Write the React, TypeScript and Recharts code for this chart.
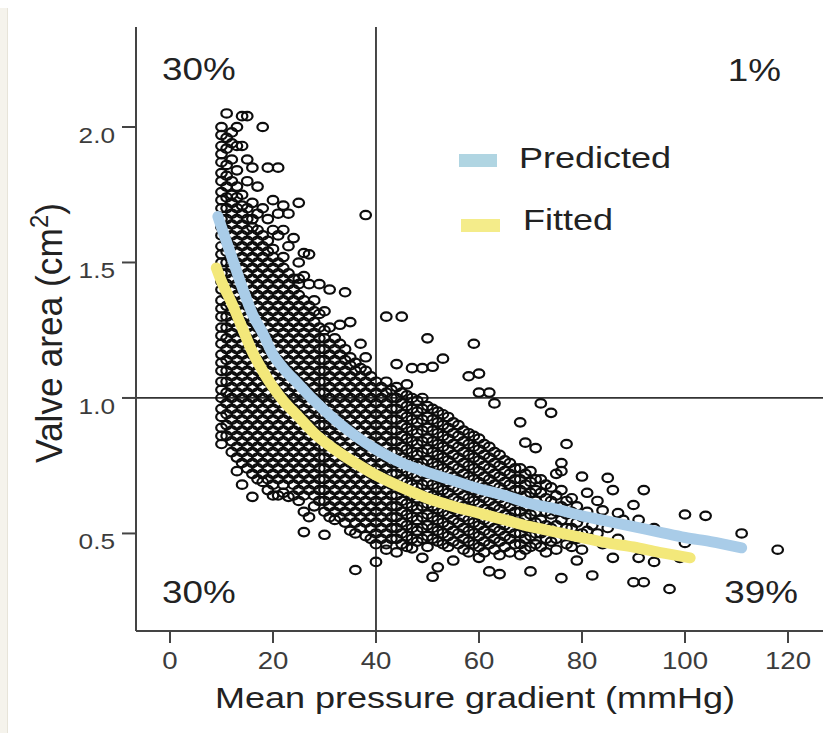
import React from 'react';
import { ComposedChart, XAxis, YAxis, Scatter, ReferenceLine } from 'recharts';

const FONT = '"Liberation Sans", Arial, Helvetica, sans-serif';

// Mean pressure gradient columns (mmHg) with the valve areas (cm²)
const scatterColumns: [number, number[]][] = [
  [10, [2.00,1.97,1.93,1.90,1.87,1.83,1.80,1.76,1.73,1.70,1.66,1.63,1.60,1.56,1.53,1.50,1.46,1.43,1.40,1.36,1.33,1.30,1.26,1.23,1.20,1.16,1.13,1.10,1.06,1.03,1.00,0.96,0.93,0.89,0.86,0.83]],
  [11, [2.05,1.96,1.92,1.86,1.82,1.78,1.74,1.70,1.66,1.62,1.58,1.54,1.50,1.46,1.42,1.38,1.34,1.30,1.26,1.22,1.18,1.14,1.10,1.06,1.02,0.98,0.94,0.90,0.86]],
  [12, [1.98,1.94,1.88,1.80,1.75,1.72,1.68,1.64,1.60,1.56,1.52,1.48,1.44,1.40,1.36,1.32,1.28,1.24,1.20,1.16,1.12,1.08,1.04,1.00,0.96,0.92,0.88,0.84,0.80]],
  [13, [2.00,1.93,1.84,1.78,1.74,1.70,1.66,1.62,1.58,1.54,1.50,1.46,1.42,1.38,1.34,1.30,1.26,1.22,1.18,1.14,1.10,1.06,1.02,0.98,0.94,0.90,0.86,0.82,0.78,0.73]],
  [14, [2.04,1.93,1.75,1.71,1.68,1.64,1.60,1.56,1.52,1.48,1.44,1.40,1.36,1.32,1.28,1.24,1.20,1.16,1.12,1.08,1.04,1.00,0.96,0.92,0.88,0.84,0.80,0.76,0.68]],
  [15, [2.04,1.88,1.80,1.70,1.66,1.62,1.58,1.54,1.50,1.46,1.42,1.38,1.34,1.30,1.26,1.22,1.18,1.14,1.10,1.06,1.02,0.98,0.94,0.90,0.86,0.82,0.78,0.74]],
  [16, [1.85,1.72,1.66,1.63,1.60,1.56,1.52,1.48,1.44,1.40,1.36,1.32,1.28,1.24,1.20,1.16,1.12,1.08,1.04,1.00,0.96,0.92,0.88,0.84,0.80,0.76,0.72,0.635]],
  [17, [1.78,1.68,1.62,1.58,1.54,1.50,1.46,1.42,1.38,1.34,1.30,1.26,1.22,1.18,1.14,1.10,1.06,1.02,0.98,0.94,0.90,0.86,0.82,0.78,0.74,0.70]],
  [18, [2.00,1.70,1.60,1.56,1.52,1.48,1.44,1.40,1.36,1.32,1.28,1.24,1.20,1.16,1.12,1.08,1.04,1.00,0.96,0.92,0.88,0.84,0.80,0.76,0.72,0.69]],
  [19, [1.85,1.66,1.58,1.54,1.50,1.46,1.42,1.38,1.34,1.30,1.26,1.22,1.18,1.14,1.10,1.06,1.02,0.98,0.94,0.90,0.86,0.82,0.78,0.74,0.70,0.66]],
  [20, [1.73,1.62,1.55,1.52,1.48,1.44,1.40,1.36,1.32,1.28,1.24,1.20,1.16,1.12,1.08,1.04,1.00,0.96,0.92,0.88,0.84,0.80,0.76,0.72,0.68,0.64]],
  [21, [1.85,1.68,1.60,1.50,1.46,1.42,1.38,1.34,1.30,1.26,1.22,1.18,1.14,1.10,1.06,1.02,0.98,0.94,0.90,0.86,0.82,0.78,0.74,0.70,0.64]],
  [22, [1.71,1.62,1.52,1.48,1.44,1.40,1.36,1.32,1.28,1.24,1.20,1.16,1.12,1.08,1.04,1.00,0.96,0.92,0.88,0.84,0.80,0.76,0.72,0.68,0.65]],
  [23, [1.68,1.56,1.46,1.42,1.38,1.34,1.30,1.26,1.22,1.18,1.14,1.10,1.06,1.02,0.98,0.94,0.90,0.86,0.82,0.78,0.74,0.70,0.635]],
  [24, [1.59,1.44,1.40,1.36,1.32,1.28,1.24,1.20,1.16,1.12,1.08,1.04,1.00,0.96,0.92,0.88,0.84,0.80,0.76,0.72,0.68,0.64]],
  [25, [1.72,1.50,1.44,1.42,1.38,1.34,1.30,1.26,1.22,1.18,1.14,1.10,1.06,1.02,0.98,0.94,0.90,0.86,0.82,0.78,0.74,0.70,0.66,0.62]],
  [26, [1.535,1.45,1.36,1.32,1.28,1.24,1.20,1.16,1.12,1.08,1.04,1.00,0.96,0.92,0.88,0.84,0.80,0.76,0.72,0.68,0.64,0.58,0.505]],
  [27, [1.53,1.42,1.34,1.30,1.26,1.22,1.18,1.14,1.10,1.06,1.02,0.98,0.94,0.90,0.86,0.82,0.78,0.74,0.70,0.66,0.56]],
  [28, [1.36,1.32,1.28,1.24,1.20,1.16,1.12,1.08,1.04,1.00,0.96,0.92,0.88,0.84,0.80,0.76,0.72,0.68,0.64,0.60]],
  [29, [1.42,1.31,1.26,1.22,1.18,1.14,1.10,1.06,1.02,0.98,0.94,0.90,0.86,0.82,0.78,0.74,0.70,0.66,0.62]],
  [30, [1.32,1.25,1.22,1.18,1.14,1.10,1.06,1.02,0.98,0.94,0.90,0.86,0.82,0.78,0.74,0.70,0.66,0.62,0.58,0.495]],
  [31, [1.40,1.26,1.20,1.16,1.12,1.08,1.04,1.00,0.96,0.92,0.88,0.84,0.80,0.76,0.72,0.68,0.64,0.60,0.56]],
  [32, [1.22,1.18,1.14,1.10,1.06,1.02,0.98,0.94,0.90,0.86,0.82,0.78,0.74,0.70,0.66,0.62,0.58,0.55]],
  [33, [1.27,1.20,1.16,1.12,1.08,1.04,1.00,0.96,0.92,0.88,0.84,0.80,0.76,0.72,0.68,0.64,0.60,0.56]],
  [34, [1.39,1.18,1.14,1.10,1.06,1.02,0.98,0.94,0.90,0.86,0.82,0.78,0.74,0.70,0.66,0.62,0.58,0.54]],
  [35, [1.28,1.15,1.12,1.08,1.04,1.00,0.96,0.92,0.88,0.84,0.80,0.76,0.72,0.68,0.64,0.60,0.56,0.51]],
  [36, [1.13,1.10,1.06,1.02,0.98,0.94,0.90,0.86,0.82,0.78,0.74,0.70,0.66,0.62,0.58,0.54,0.50,0.365]],
  [37, [1.20,1.11,1.08,1.04,1.00,0.96,0.92,0.88,0.84,0.80,0.76,0.72,0.68,0.64,0.60,0.56,0.52]],
  [38, [1.675,1.15,1.10,1.06,1.02,0.98,0.94,0.90,0.86,0.82,0.78,0.74,0.70,0.66,0.62,0.58,0.54,0.49]],
  [39, [1.08,1.04,1.00,0.96,0.92,0.88,0.84,0.80,0.76,0.72,0.68,0.64,0.60,0.56,0.52,0.48]],
  [40, [1.06,1.02,0.98,0.94,0.90,0.86,0.82,0.78,0.74,0.70,0.66,0.62,0.58,0.54,0.50,0.46,0.395]],
  [41, [1.04,1.00,0.96,0.92,0.88,0.84,0.80,0.76,0.72,0.68,0.64,0.60,0.56,0.52,0.48]],
  [42, [1.30,1.06,1.02,0.98,0.94,0.90,0.86,0.82,0.78,0.74,0.70,0.66,0.62,0.58,0.54,0.50,0.46,0.44]],
  [43, [1.03,1.00,0.96,0.92,0.88,0.84,0.80,0.76,0.72,0.68,0.64,0.60,0.56,0.52,0.48]],
  [44, [1.125,1.04,1.00,0.96,0.92,0.88,0.84,0.80,0.76,0.72,0.68,0.64,0.60,0.56,0.52,0.48,0.43]],
  [45, [1.30,1.02,0.98,0.94,0.90,0.86,0.82,0.78,0.74,0.70,0.66,0.62,0.58,0.54,0.50,0.46]],
  [46, [1.05,1.01,0.97,0.93,0.89,0.85,0.81,0.77,0.73,0.69,0.65,0.61,0.57,0.53,0.49,0.45]],
  [47, [1.11,1.00,0.96,0.92,0.88,0.84,0.80,0.76,0.72,0.68,0.64,0.60,0.56,0.52,0.48,0.445]],
  [48, [0.99,0.95,0.91,0.87,0.83,0.79,0.75,0.71,0.67,0.63,0.59,0.55,0.51,0.47]],
  [49, [1.11,1.00,0.96,0.92,0.88,0.84,0.80,0.76,0.72,0.68,0.64,0.60,0.56,0.52,0.48,0.41]],
  [50, [1.22,0.97,0.93,0.89,0.85,0.81,0.77,0.73,0.69,0.65,0.61,0.57,0.53,0.49,0.45]],
  [51, [1.115,0.96,0.92,0.88,0.84,0.80,0.76,0.72,0.68,0.64,0.60,0.56,0.52,0.48,0.34]],
  [52, [0.95,0.91,0.87,0.83,0.79,0.75,0.71,0.67,0.63,0.59,0.55,0.51,0.47,0.375]],
  [53, [1.145,0.94,0.90,0.86,0.82,0.78,0.74,0.70,0.66,0.62,0.58,0.54,0.50,0.46]],
  [54, [0.93,0.89,0.85,0.81,0.77,0.73,0.69,0.65,0.61,0.57,0.53,0.49,0.45]],
  [55, [0.91,0.87,0.83,0.79,0.75,0.71,0.67,0.63,0.59,0.55,0.51,0.47,0.40]],
  [56, [0.90,0.86,0.82,0.78,0.74,0.70,0.66,0.62,0.58,0.54,0.50,0.46]],
  [57, [0.88,0.84,0.80,0.76,0.72,0.68,0.64,0.60,0.56,0.52,0.48,0.44]],
  [58, [1.08,0.87,0.83,0.79,0.75,0.71,0.67,0.63,0.59,0.55,0.51,0.47,0.43]],
  [59, [1.20,0.86,0.82,0.78,0.74,0.70,0.66,0.62,0.58,0.54,0.50,0.46]],
  [60, [1.09,1.02,0.85,0.81,0.77,0.73,0.69,0.65,0.61,0.57,0.53,0.49,0.45,0.41]],
  [61, [0.83,0.79,0.75,0.71,0.67,0.63,0.59,0.55,0.51,0.47,0.43]],
  [62, [1.02,0.82,0.78,0.74,0.70,0.66,0.62,0.58,0.54,0.50,0.46,0.36]],
  [63, [0.98,0.80,0.76,0.72,0.68,0.64,0.60,0.56,0.52,0.48,0.44]],
  [64, [0.79,0.75,0.71,0.67,0.63,0.59,0.55,0.51,0.47,0.42,0.35]],
  [65, [0.77,0.73,0.69,0.65,0.61,0.57,0.53,0.49,0.45]],
  [66, [0.76,0.72,0.68,0.64,0.60,0.56,0.52,0.48,0.43]],
  [67, [0.74,0.70,0.66,0.62,0.58,0.54,0.50,0.46]],
  [68, [0.91,0.74,0.70,0.66,0.62,0.58,0.54,0.50,0.46,0.42]],
  [69, [0.835,0.72,0.68,0.64,0.60,0.56,0.52,0.48,0.44]],
  [70, [0.73,0.69,0.65,0.61,0.57,0.53,0.49,0.45,0.36]],
  [71, [0.815,0.70,0.66,0.62,0.58,0.54,0.50,0.46]],
  [72, [0.98,0.70,0.65,0.60,0.55,0.50,0.45]],
  [73, [0.68,0.63,0.58,0.53,0.48,0.43]],
  [74, [0.945,0.67,0.62,0.57,0.52,0.47]],
  [75, [0.72,0.64,0.58,0.53,0.48,0.44]],
  [76, [0.76,0.73,0.66,0.60,0.55,0.50,0.335]],
  [77, [0.83,0.62,0.57,0.52,0.46]],
  [78, [0.63,0.58,0.52,0.45]],
  [79, [0.60,0.54,0.48,0.40]],
  [80, [0.71,0.56,0.50,0.44]],
  [81, [0.65,0.58,0.51]],
  [82, [0.53,0.345]],
  [83, [0.62,0.50]],
  [84, [0.585,0.46]],
  [85, [0.705,0.52]],
  [86, [0.66,0.41]],
  [87, [0.575,0.48]],
  [88, [0.55]],
  [90, [0.605,0.32]],
  [91, [0.55,0.41]],
  [92, [0.66,0.32]],
  [94, [0.52,0.395]],
  [97, [0.295]],
  [99, [0.41]],
  [100, [0.57,0.465]],
  [104, [0.565]],
  [111, [0.50]],
  [118, [0.44]],
];

// Predicted curve
const predictedX = [9.3, 10, 12, 14, 16, 18, 20, 22, 25, 28, 32, 36, 40, 45, 50, 55, 60, 65, 70, 75, 80, 85, 90, 95, 100, 105, 111];
const predictedY = [1.67, 1.63, 1.52, 1.41, 1.31, 1.24, 1.16, 1.11, 1.05, 0.99, 0.92, 0.86, 0.81, 0.76, 0.725, 0.695, 0.665, 0.64, 0.61, 0.59, 0.565, 0.545, 0.525, 0.505, 0.485, 0.47, 0.447];

// Fitted curve
const fittedX = [9, 10, 12, 14, 16, 18, 20, 22, 25, 28, 32, 36, 40, 45, 50, 55, 60, 65, 70, 75, 80, 85, 90, 95, 101];
const fittedY = [1.48, 1.43, 1.35, 1.26, 1.17, 1.10, 1.04, 0.99, 0.93, 0.87, 0.81, 0.76, 0.715, 0.67, 0.63, 0.60, 0.575, 0.55, 0.525, 0.505, 0.485, 0.465, 0.45, 0.43, 0.41];

const xTicks = [0, 20, 40, 60, 80, 100, 120];
const yTicks = [0.5, 1.0, 1.5, 2.0];
const quadrantLabels = ['30%', '1%', '30%', '39%'];
const seriesNames = ['Predicted', 'Fitted'];

const points = scatterColumns.flatMap(([x, ys]) => ys.map((y) => ({ x, y })));
const predicted = predictedX.map((x, i) => ({ x, y: predictedY[i] }));
const fitted = fittedX.map((x, i) => ({ x, y: fittedY[i] }));

const BLUE = '#a9cce8';
const YELLOW = '#f3e87a';

const SText = ({ x, y, size, anchor = 'start', sx = 1.2, fill = '#222', children }: any) => (
  <text
    transform={`translate(${x} ${y}) scale(${sx} 1)`}
    fontSize={size}
    textAnchor={anchor}
    fill={fill}
    fontFamily={FONT}
  >
    {children}
  </text>
);

const XTick = (props: any) => {
  const { x, y, payload } = props;
  return (
    <text transform={`translate(${x} ${y}) scale(1.2 1)`} dy="0.71em" textAnchor="middle" fontSize={23} fill="#3c3c3c" fontFamily={FONT}>
      {payload.value}
    </text>
  );
};

const YTick = (props: any) => {
  const { x, y, payload } = props;
  return (
    <text transform={`translate(${x} ${y + 16}) scale(1.22 1)`} textAnchor="end" fontSize={21.5} fill="#3c3c3c" fontFamily={FONT}>
      {Number(payload.value).toFixed(1)}
    </text>
  );
};

const Dot = (props: any) => {
  const { cx, cy } = props;
  if (cx == null || cy == null) return null;
  return <ellipse cx={cx} cy={cy} rx={5.3} ry={4.2} fill="none" stroke="#0d0d0d" strokeWidth={2.2} />;
};

const NoDot = () => <g />;

const XTitle = () => (
  <SText x={475} y={708} size={30} anchor="middle">
    Mean pressure gradient (mmHg)
  </SText>
);

const YTitle = () => (
  <text
    transform="translate(62 333) rotate(-90) scale(1.14 1.2)"
    fontSize={31}
    textAnchor="middle"
    fill="#222"
    fontFamily={FONT}
  >
    Valve area (cm<tspan fontSize={21} dy={-12}>2</tspan><tspan dy={12}>)</tspan>
  </text>
);

export default function App() {
  return (
    <div style={{ position: 'absolute', left: 0, top: 0, width: 836, height: 735, background: '#fff' }}>
      <div style={{ position: 'absolute', left: 0, top: 8, width: 7, height: 725, background: '#f5f3ec', borderRight: '1px solid #e7e4d9' }} />
      <div style={{ position: 'absolute', left: 0, top: 0 }}>
        <ComposedChart width={836} height={735} margin={{ top: 27, right: 13, bottom: 0, left: 0 }}>
          <XAxis
            type="number"
            dataKey="x"
            domain={[-6.6, 126.8]}
            allowDataOverflow
            ticks={xTicks}
            height={104}
            tickSize={12}
            tickMargin={10}
            axisLine={{ stroke: '#444', strokeWidth: 2 }}
            tickLine={{ stroke: '#444', strokeWidth: 2 }}
            tick={<XTick />}
            label={{ content: <XTitle /> }}
          />
          <YAxis
            type="number"
            dataKey="y"
            domain={[0.14, 2.369]}
            allowDataOverflow
            ticks={yTicks}
            width={136}
            tickSize={14}
            tickMargin={7}
            axisLine={{ stroke: '#444', strokeWidth: 2 }}
            tickLine={{ stroke: '#444', strokeWidth: 2 }}
            tick={<YTick />}
            label={{ content: <YTitle /> }}
          />
          <ReferenceLine x={40} stroke="#333" strokeWidth={1.8} />
          <ReferenceLine y={1.0} stroke="#333" strokeWidth={1.8} />
          <Scatter data={points} dataKey="y" shape={<Dot />} isAnimationActive={false} />
          <Scatter
            data={predicted}
            dataKey="y"
            shape={<NoDot />}
            line={{ stroke: BLUE, strokeWidth: 11, strokeLinecap: 'round', strokeLinejoin: 'round' }}
            lineJointType="monotoneX"
            isAnimationActive={false}
          />
          <Scatter
            data={fitted}
            dataKey="y"
            shape={<NoDot />}
            line={{ stroke: YELLOW, strokeWidth: 11, strokeLinecap: 'round', strokeLinejoin: 'round' }}
            lineJointType="monotoneX"
            isAnimationActive={false}
          />
          <g>
            <SText x={162} y={80} size={32} sx={1.15}>{quadrantLabels[0]}</SText>
            <SText x={781} y={81} size={32} sx={1.15} anchor="end">{quadrantLabels[1]}</SText>
            <SText x={162} y={603} size={32} sx={1.15}>{quadrantLabels[2]}</SText>
            <SText x={798} y={603} size={32} sx={1.15} anchor="end">{quadrantLabels[3]}</SText>
            <rect x={459} y={154} width={38} height={13} fill="#b0d5e2" />
            <SText x={519} y={168} size={30}>{seriesNames[0]}</SText>
            <rect x={461} y={219} width={39} height={13} fill="#f4ec8a" />
            <SText x={523} y={230} size={30}>{seriesNames[1]}</SText>
          </g>
        </ComposedChart>
      </div>
    </div>
  );
}
